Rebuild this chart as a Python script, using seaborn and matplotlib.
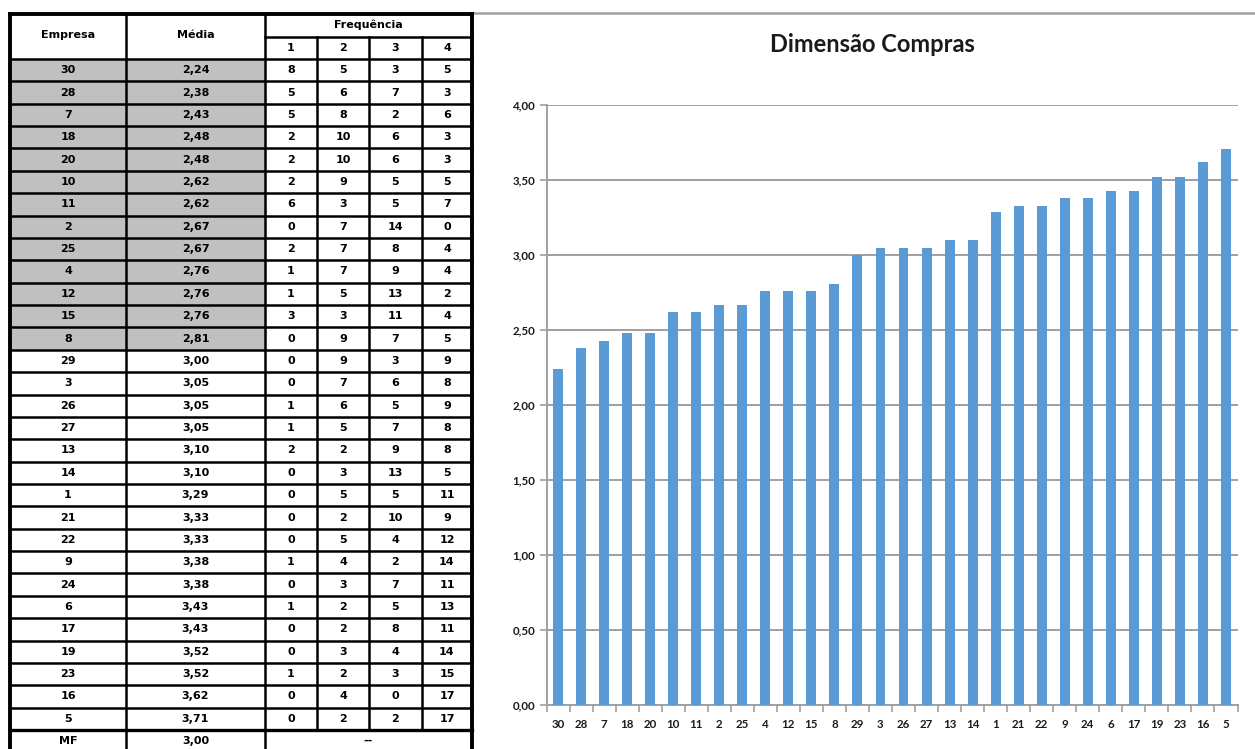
import matplotlib
matplotlib.use("Agg")
import matplotlib.pyplot as plt
from matplotlib.patches import Rectangle
from matplotlib.ticker import FuncFormatter, FixedLocator
import seaborn as sns

# Companies ranked by mean score in the purchasing dimension
empresas = ["30", "28", "7", "18", "20", "10", "11", "2", "25", "4", "12", "15", "8",
            "29", "3", "26", "27", "13", "14", "1", "21", "22", "9", "24", "6", "17",
            "19", "23", "16", "5"]
medias = [2.24, 2.38, 2.43, 2.48, 2.48, 2.62, 2.62, 2.67, 2.67, 2.76, 2.76, 2.76, 2.81,
          3.00, 3.05, 3.05, 3.05, 3.10, 3.10, 3.29, 3.33, 3.33, 3.38, 3.38, 3.43, 3.43,
          3.52, 3.52, 3.62, 3.71]
freq1 = [8, 5, 5, 2, 2, 2, 6, 0, 2, 1, 1, 3, 0, 0, 0, 1, 1, 2, 0, 0, 0, 0, 1, 0, 1, 0, 0, 1, 0, 0]
freq2 = [5, 6, 8, 10, 10, 9, 3, 7, 7, 7, 5, 3, 9, 9, 7, 6, 5, 2, 3, 5, 2, 5, 4, 3, 2, 2, 3, 2, 4, 2]
freq3 = [3, 7, 2, 6, 6, 5, 5, 14, 8, 9, 13, 11, 7, 3, 6, 5, 7, 9, 13, 5, 10, 4, 2, 7, 5, 8, 4, 3, 0, 2]
freq4 = [5, 3, 6, 3, 3, 5, 7, 0, 4, 4, 2, 4, 5, 9, 8, 9, 8, 8, 5, 11, 9, 12, 14, 11, 13, 11, 14, 15, 17, 17]
media_geral = 3.00
n_abaixo = 13  # companies below the overall mean, shaded in the table

W, H = 1255, 749
fig = plt.figure(figsize=(W / 100, H / 100), dpi=100)
fig.patch.set_facecolor("white")


def fmt(v):
    return f"{v:.2f}".replace(".", ",")


# ---------------- table ----------------
tab = fig.add_axes([0, 0, 1, 1])
tab.set_xlim(0, W)
tab.set_ylim(H, 0)
tab.axis("off")

cols = [10, 126, 265, 317, 369, 422, 472]
top, hsplit, hbot = 14, 36.5, 59
row_h = (730 - hbot) / len(empresas)
tf = dict(family="DejaVu Sans", weight="bold", fontsize=8, color="black",
          ha="center", va="center")

# shaded cells
for i in range(n_abaixo):
    y0 = hbot + i * row_h
    tab.add_patch(Rectangle((cols[0], y0), cols[2] - cols[0], row_h,
                            facecolor="#C0C0C0", edgecolor="none", zorder=1))

lw = 1.8
# header
tab.text((cols[0] + cols[1]) / 2, (top + hbot) / 2 - 1, "Empresa", **tf)
tab.text((cols[1] + cols[2]) / 2, (top + hbot) / 2 - 1, "Média", **tf)
tab.text((cols[2] + cols[6]) / 2, (top + hsplit) / 2 - 1, "Frequência", **tf)
for k in range(4):
    tab.text((cols[2 + k] + cols[3 + k]) / 2, (hsplit + hbot) / 2, str(k + 1), **tf)
tab.plot([cols[2], cols[6]], [hsplit, hsplit], color="black", lw=lw, zorder=3)
for c in cols[3:6]:
    tab.plot([c, c], [hsplit, 730], color="black", lw=lw, zorder=3)

# rows
for i, emp in enumerate(empresas):
    yc = hbot + (i + 0.5) * row_h
    tab.text((cols[0] + cols[1]) / 2, yc, emp, **tf, zorder=4)
    tab.text((cols[1] + cols[2]) / 2, yc, fmt(medias[i]), **tf, zorder=4)
    for k, fr in enumerate((freq1, freq2, freq3, freq4)):
        tab.text((cols[2 + k] + cols[3 + k]) / 2, yc, str(fr[i]), **tf, zorder=4)
for j in range(len(empresas) + 1):
    y = hbot + j * row_h
    tab.plot([cols[0], cols[6]], [y, y], color="black", lw=lw, zorder=3)

# overall mean row
ymf = 730 + row_h / 2
tab.text((cols[0] + cols[1]) / 2, ymf, "MF", **tf)
tab.text((cols[1] + cols[2]) / 2, ymf, fmt(media_geral), **tf)
tab.text((cols[2] + cols[6]) / 2, ymf, "--", **tf)
bottom = 730 + row_h + 2
for c in (cols[1], cols[2]):
    tab.plot([c, c], [top, bottom], color="black", lw=lw, zorder=3)
tab.plot([cols[0], cols[0]], [top, bottom], color="black", lw=2.8, zorder=3)
tab.plot([cols[6], cols[6]], [top, bottom], color="black", lw=2.8, zorder=3)
tab.plot([cols[0], cols[6]], [top, top], color="black", lw=2.8, zorder=3)
tab.plot([cols[0], cols[6]], [730, 730], color="black", lw=2.4, zorder=3)

# chart frame top edge
tab.plot([473, W], [13, 13], color="#A0A0A0", lw=1.8, zorder=2)

# ---------------- bar chart ----------------
ax_l, ax_r = 546.5, 1237.5
y0_px, y4_px = 705, 105
ax = fig.add_axes([ax_l / W, (H - y0_px) / H, (ax_r - ax_l) / W, (y0_px - y4_px) / H])
sns.barplot(x=empresas, y=medias, order=empresas, color="#5B9BD5", saturation=1,
            width=0.43, ax=ax, zorder=3)
ax.set_xlim(-0.5, len(empresas) - 0.5)
ax.set_ylim(0, 4)
ax.set_yticks([0, 0.5, 1, 1.5, 2, 2.5, 3, 3.5, 4])
ax.yaxis.set_major_formatter(FuncFormatter(lambda v, p: fmt(v)))
ax.set_facecolor("none")
ax.grid(axis="y", color="#A0A0A0", lw=1.4, zorder=0)
ax.grid(axis="x", visible=False)
for s in ("top", "right"):
    ax.spines[s].set_visible(False)
for s in ("left", "bottom"):
    ax.spines[s].set_color("#A0A0A0")
    ax.spines[s].set_linewidth(1.4)
ax.set_xlabel("")
ax.set_ylabel("")

ax.tick_params(axis="y", length=5, width=1.2, color="#A0A0A0", pad=3)
ax.tick_params(axis="x", which="major", length=0, pad=10)
ax.xaxis.set_minor_locator(FixedLocator([i - 0.5 for i in range(len(empresas) + 1)]))
ax.tick_params(axis="x", which="minor", length=5, width=1.2, color="#A0A0A0")
for t in ax.get_xticklabels() + ax.get_yticklabels():
    t.set_fontfamily(["Lato", "DejaVu Sans"])
    t.set_fontweight("bold")
    t.set_fontsize(8.3)
    t.set_color("#1a1a1a")

fig.text(872 / W, 1 - 45 / H, "Dimensão Compras",
         ha="center", va="center", fontsize=17, color="#1a1a1a",
         family=["Lato", "DejaVu Sans"], weight="bold")

fig.savefig("out.png", dpi=100)
